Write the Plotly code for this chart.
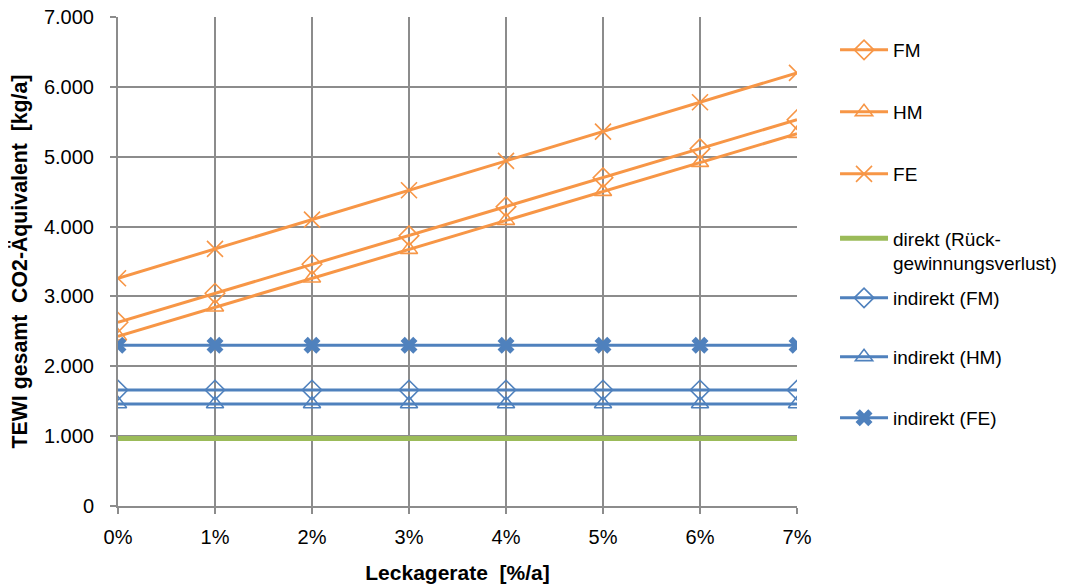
import plotly.graph_objects as go

leak = [0, 1, 2, 3, 4, 5, 6, 7]
tick_labels = ["0%", "1%", "2%", "3%", "4%", "5%", "6%", "7%"]

fm_total = [2630, 3045, 3460, 3870, 4285, 4700, 5115, 5530]
hm_total = [2430, 2845, 3260, 3670, 4085, 4500, 4915, 5330]
fe_total = [3260, 3680, 4100, 4520, 4940, 5360, 5780, 6200]
direkt = [965, 965, 965, 965, 965, 965, 965, 965]
ind_fm = [1660, 1660, 1660, 1660, 1660, 1660, 1660, 1660]
ind_hm = [1460, 1460, 1460, 1460, 1460, 1460, 1460, 1460]
ind_fe = [2300, 2300, 2300, 2300, 2300, 2300, 2300, 2300]

ORANGE = "#F79646"
BLUE = "#4F81BD"
GREEN = "#9BBB59"
FONT = "Liberation Sans, Arial, sans-serif"

# legend slot (paper y of entry centre), one legend per series
legend_y = [0.9325, 0.8057, 0.6789, 0.5215, 0.4254, 0.3047, 0.1800]
legend_ids = ["legend", "legend2", "legend3", "legend4", "legend5", "legend6", "legend7"]

fig = go.Figure()

def add(name, y, color, symbol, idx, lw=3, msize=15, mlw=1.6):
    fig.add_trace(go.Scatter(
        x=leak, y=y, name=name, mode="lines+markers",
        line=dict(color=color, width=lw),
        marker=dict(symbol=symbol, size=msize, color=color,
                    line=dict(color=color, width=mlw)),
        legend=legend_ids[idx],
    ))

add("FM", fm_total, ORANGE, "diamond-open", 0)
add("HM", hm_total, ORANGE, "triangle-up-open", 1)
add("FE", fe_total, ORANGE, "x-thin-open", 2, msize=16)
fig.add_trace(go.Scatter(x=leak, y=direkt, name="direkt (Rück-<br>gewinnungsverlust)",
                         mode="lines", line=dict(color=GREEN, width=5),
                         legend=legend_ids[3]))
add("indirekt (FM)", ind_fm, BLUE, "diamond-open", 4)
add("indirekt (HM)", ind_hm, BLUE, "triangle-up-open", 5)
fig.add_trace(go.Scatter(
    x=leak, y=ind_fe, name="indirekt (FE)", mode="lines+markers",
    line=dict(color=BLUE, width=3),
    marker=dict(symbol="x", size=15, color=BLUE, line=dict(width=0)),
    legend=legend_ids[6]))

leg_common = dict(x=1.056, xanchor="left", yanchor="middle",
                  xref="paper", yref="paper", itemwidth=48, valign="top",
                  font=dict(family=FONT, size=19, color="black"),
                  bgcolor="rgba(0,0,0,0)")
legends = {lid: dict(leg_common, y=ly) for lid, ly in zip(legend_ids, legend_y)}

fig.update_layout(
    width=1074, height=585,
    margin=dict(l=110, r=285, t=9, b=87),
    paper_bgcolor="white", plot_bgcolor="white",
    separators=",.",
    font=dict(family=FONT, size=20, color="black"),
    showlegend=True,
    **legends,
)
fig.update_xaxes(
    range=[0, 7], tickmode="array", tickvals=leak, ticktext=tick_labels,
    showgrid=True, gridcolor="#8C8C8C", gridwidth=2,
    showline=True, linecolor="#8C8C8C", linewidth=2,
    ticks="outside", ticklen=6, tickcolor="#8C8C8C", tickwidth=2,
    ticklabelstandoff=6, ticklabeloverflow="allow",
    zeroline=False, automargin=False,
    title=dict(text="<b>Leckagerate  [%/a]</b>", standoff=18, font=dict(size=21)),
)
fig.update_yaxes(
    range=[0, 7000], tickmode="linear", tick0=0, dtick=1000, tickformat=",d",
    showgrid=True, gridcolor="#8C8C8C", gridwidth=2,
    showline=True, linecolor="#8C8C8C", linewidth=2,
    ticks="outside", ticklen=6, tickcolor="#8C8C8C", tickwidth=2,
    ticklabelstandoff=12, ticklabeloverflow="allow",
    zeroline=False, automargin=False,
    title=dict(text="<b>TEWI gesamt  CO2-Äquivalent  [kg/a]</b>", standoff=12, font=dict(size=21.3)),
)

fig.write_html("out.html")
